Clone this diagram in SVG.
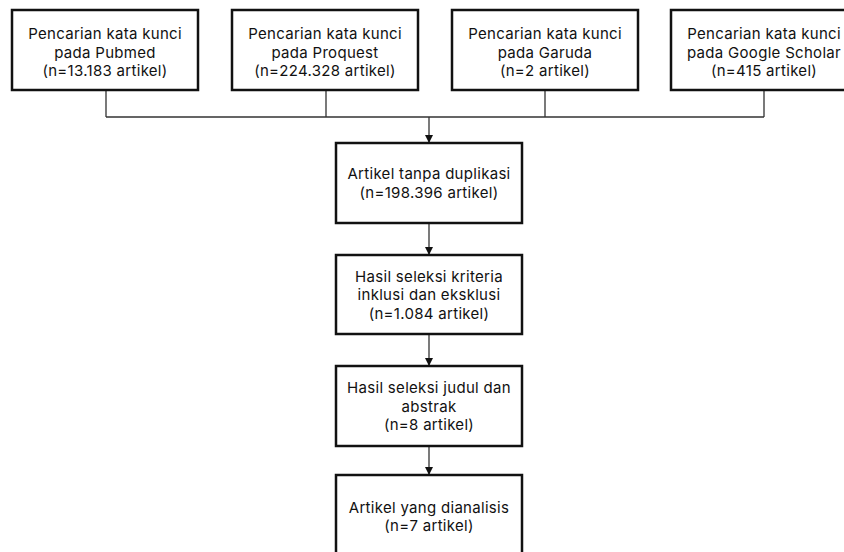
<svg xmlns="http://www.w3.org/2000/svg" width="844" height="552" viewBox="0 0 844 552">
<style>
  .box { fill: #ffffff; stroke: #111111; stroke-width: 2.5; }
  .t { font-family: Inter, "Liberation Sans", sans-serif; font-size: 15px; letter-spacing: 0.3px; fill: #111111; text-anchor: middle; }
  .line { fill: none; stroke: #333333; stroke-width: 1.3; }
</style>
<defs>
  <marker id="arr" viewBox="0 0 10 10" refX="10" refY="5" markerWidth="8" markerHeight="8" markerUnits="userSpaceOnUse" orient="auto">
    <path d="M0,0 L10,5 L0,10 z" fill="#111111"/>
  </marker>
</defs>
<rect width="844" height="552" fill="#ffffff"/>
<g id="connectors">
  <path class="line" d="M106,90 V117 M326,90 V117 M545,90 V117 M764,90 V117 M106,117 H764"/>
  <path class="line" d="M429,117 V143" marker-end="url(#arr)"/>
  <path class="line" d="M429,223 V255" marker-end="url(#arr)"/>
  <path class="line" d="M429,334 V366" marker-end="url(#arr)"/>
  <path class="line" d="M429,446 V475" marker-end="url(#arr)"/>
</g>
<g id="pubmed">
  <rect class="box" x="12" y="10" width="186" height="80"/>
  <text class="t" x="105" y="39">Pencarian kata kunci</text>
  <text class="t" x="105" y="57.5">pada Pubmed</text>
  <text class="t" x="105" y="76">(n=13.183 artikel)</text>
</g>
<g id="proquest">
  <rect class="box" x="232" y="10" width="186" height="80"/>
  <text class="t" x="325" y="39">Pencarian kata kunci</text>
  <text class="t" x="325" y="57.5">pada Proquest</text>
  <text class="t" x="325" y="76">(n=224.328 artikel)</text>
</g>
<g id="garuda">
  <rect class="box" x="452" y="10" width="186" height="80"/>
  <text class="t" x="545" y="39">Pencarian kata kunci</text>
  <text class="t" x="545" y="57.5">pada Garuda</text>
  <text class="t" x="545" y="76">(n=2 artikel)</text>
</g>
<g id="scholar">
  <rect class="box" x="671" y="10" width="186" height="80"/>
  <text class="t" x="764" y="39">Pencarian kata kunci</text>
  <text class="t" x="764" y="57.5">pada Google Scholar</text>
  <text class="t" x="764" y="76">(n=415 artikel)</text>
</g>
<g id="dedup">
  <rect class="box" x="336" y="143" width="186" height="80"/>
  <text class="t" x="429" y="179">Artikel tanpa duplikasi</text>
  <text class="t" x="429" y="197.5">(n=198.396 artikel)</text>
</g>
<g id="criteria">
  <rect class="box" x="336" y="255" width="186" height="79"/>
  <text class="t" x="429" y="281.5">Hasil seleksi kriteria</text>
  <text class="t" x="429" y="300">inklusi dan eksklusi</text>
  <text class="t" x="429" y="318.5">(n=1.084 artikel)</text>
</g>
<g id="abstract">
  <rect class="box" x="336" y="366" width="186" height="80"/>
  <text class="t" x="429" y="393">Hasil seleksi judul dan</text>
  <text class="t" x="429" y="411.5">abstrak</text>
  <text class="t" x="429" y="430">(n=8 artikel)</text>
</g>
<g id="analyzed">
  <rect class="box" x="336" y="475" width="186" height="85"/>
  <text class="t" x="429" y="512.5">Artikel yang dianalisis</text>
  <text class="t" x="429" y="531">(n=7 artikel)</text>
</g>
</svg>
